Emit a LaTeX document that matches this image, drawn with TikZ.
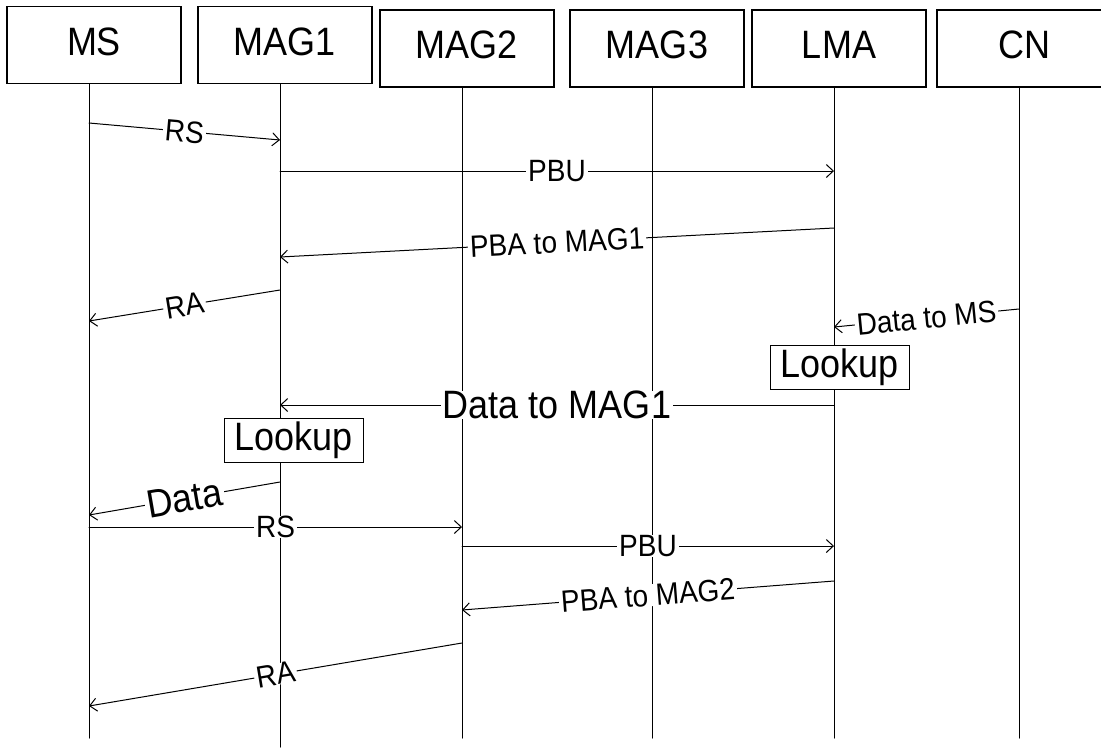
\documentclass[tikz,border=0pt]{standalone}
\usepackage{fontspec}
\setmainfont{Liberation Sans}
\usetikzlibrary{arrows.meta}

\newcommand\tallbox[1]{\scalebox{1}[1.1]{#1}}

\tikzset{
  entity/.style={draw, line width=1.1pt, minimum width=174pt, minimum height=77pt,
    inner sep=0pt, text depth=7pt, font=\fontsize{36}{40}\selectfont},
  lifeline/.style={line width=1pt},
  msg/.style={line width=1pt, -{Straight Barb[length=7pt,width=13pt]}},
  lbl/.style={fill=white, inner xsep=2pt, inner ysep=0pt, sloped,
    font=\fontsize{28}{32}\selectfont},
  biglbl/.style={lbl, font=\fontsize{36}{40}\selectfont},
  lookupbox/.style={draw, fill=white, line width=1pt, minimum width=139pt,
    minimum height=44pt, inner sep=0pt, font=\fontsize{36}{40}\selectfont},
}

\begin{document}
\begin{tikzpicture}[x=1pt, y=-1pt, line cap=round]
  \clip (0,0) rectangle (1101,748);
  \fill[white] (0,0) rectangle (1101,748);

  % ---------------- entities and lifelines ----------------
  \foreach \n/\t/\x/\y/\l in {ms/MS/89/45/738, mag1/MAG1/280/45/747,
      mag2/MAG2/462/48.5/738, mag3/MAG3/652/48.5/738,
      lma/LMA/834/48.5/738, cn/CN/1019/48.5/738}{
    \node[entity] (box-\n) at (\x+5,\y) {\tallbox{\t}};
    \coordinate (\n) at (\x,0);
    \coordinate (\n-end) at (\x,\l);
    \draw[lifeline] (box-\n.south -| \n-end) -- (\n-end);
  }

  % ---------------- first attach (MAG1) ----------------
  \draw[msg] (ms |- 0,123) -- node[lbl] {\tallbox{RS}} (mag1 |- 0,140);
  \draw[msg] (mag1 |- 0,171) -- node[lbl] {\tallbox{PBU}} (lma |- 0,171);
  \draw[msg] (lma |- 0,228) -- node[lbl] {\tallbox{PBA to MAG1}} (mag1 |- 0,257);
  \draw[msg] (mag1 |- 0,290) -- node[lbl] {\tallbox{RA}} (ms |- 0,321);

  % ---------------- data path ----------------
  \draw[msg] (cn |- 0,309) -- node[lbl] {\tallbox{Data to MS}} (lma |- 0,327);
  \node[lookupbox] (lookup-lma) at (839.5,367) {\tallbox{Lookup}};
  \draw[msg] (lma |- 0,405) -- node[biglbl] {\tallbox{Data to MAG1}} (mag1 |- 0,405);
  \node[lookupbox] (lookup-mag1) at (293.5,440) {\tallbox{Lookup}};
  \draw[msg] (mag1 |- 0,482) -- node[biglbl] {\tallbox{Data}} (ms |- 0,515);

  % ---------------- handover to MAG2 ----------------
  \draw[msg] (ms |- 0,527) -- node[lbl] {\tallbox{RS}} (mag2 |- 0,527);
  \draw[msg] (mag2 |- 0,546) -- node[lbl] {\tallbox{PBU}} (lma |- 0,546);
  \draw[msg] (lma |- 0,581) -- node[lbl] {\tallbox{PBA to MAG2}} (mag2 |- 0,610);
  \draw[msg] (mag2 |- 0,643) -- node[lbl] {\tallbox{RA}} (ms |- 0,706);
\end{tikzpicture}
\end{document}
